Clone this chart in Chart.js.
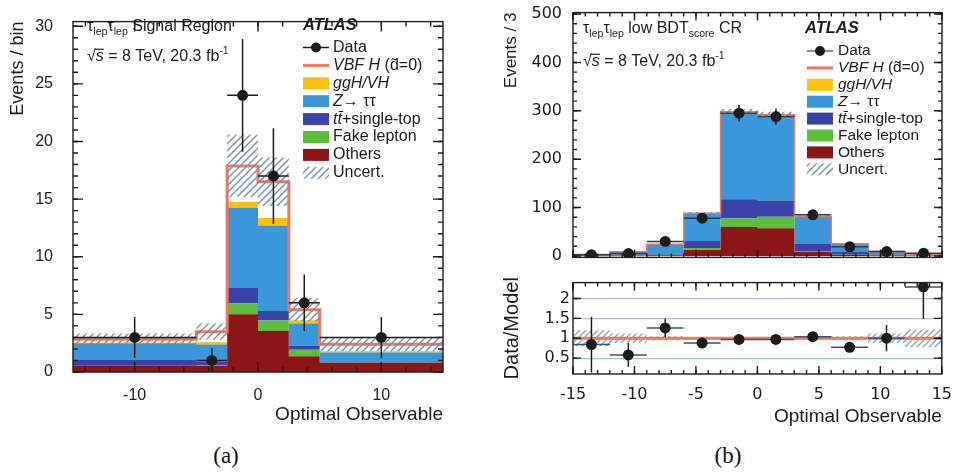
<!DOCTYPE html>
<html lang="en">
<head>
<meta charset="UTF-8">
<title>Optimal Observable</title>
<style>
  body { margin: 0; background: #fff; }
  #wrap { position: relative; width: 955px; height: 475px; overflow: hidden; }
  canvas { position: absolute; }
  #cA { left: 0; top: 0; }
  #cB { left: 490px; top: 0; }
  #cR { left: 490px; top: 270px; }
  .cap { position: absolute; top: 443px; width: 60px; text-align: center;
         font: 23px "Liberation Serif", serif; color: #111; }
</style>
</head>
<body>
<div id="wrap">
  <canvas id="cA" width="480" height="430"></canvas>
  <canvas id="cB" width="465" height="270"></canvas>
  <canvas id="cR" width="465" height="160"></canvas>
  <div class="cap" style="left:196px">(a)</div>
  <div class="cap" style="left:698px">(b)</div>
</div>

<script src="https://cdn.jsdelivr.net/npm/chart.js"></script>
<script>
// ---- (a) signal region, variable bins ----
const edgesA   = [-15, -5, -2.5, 0, 2.5, 5, 15];
const othersA  = [0.58, 0.55, 5.0, 3.57, 1.37, 0.8];
const fakeA    = [0.02, 0.03, 0.96, 0.9, 0.55, 0.02];
const ttbarA   = [0.45, 0.3, 1.37, 0.83, 0.36, 0.08];
const ztautauA = [1.45, 1.5, 6.91, 7.4, 1.92, 0.8];
const gghA     = [0.05, 0.22, 0.54, 0.65, 0.28, 0.1];
const vbfA     = [0.3, 0.9, 3.1, 3.15, 0.92, 0.6];
const uncA     = [0.5, 0.7, 2.7, 2.1, 1.0, 0.6];
const dataA    = [3, 1, 24, 17, 6, 3];
const dataErrA = [1.78, 1.05, 4.9, 4.15, 2.45, 1.78];
const xTicksA  = [-10, 0, 10];
const yTicksA  = [0, 5, 10, 15, 20, 25, 30];

// ---- (b) low BDT control region, 3-wide bins ----
const edgesB   = [-15, -12, -9, -6, -3, 0, 3, 6, 9, 12, 15];
const othersB  = [0.5, 1, 1.5, 12.5, 60, 57.5, 8, 2, 0.8, 0.3];
const fakeB    = [0.2, 0.5, 0.8, 4, 17.5, 23.5, 2, 0.7, 0.3, 0.1];
const ttbarB   = [0.5, 1.2, 2, 14.5, 39.5, 33, 14.5, 6.5, 2, 0.5];
const ztautauB = [1.7, 5.7, 19.5, 56, 178, 175, 56, 15.5, 5.8, 1.6];
const gghB     = [0.05, 0.05, 0.1, 0.5, 1.5, 1.5, 0.5, 0.15, 0.05, 0.02];
const vbfB     = [0.05, 0.05, 0.1, 0.5, 1.5, 1.5, 0.5, 0.15, 0.05, 0.02];
const relUncB  = [0.2, 0.12, 0.05, 0.03, 0.02, 0.02, 0.03, 0.05, 0.12, 0.22];
const dataB    = [2.5, 5, 30, 78, 295, 288, 85, 19, 9, 5.7];
const dataErrB = [1.6, 2.2, 5.5, 8.8, 17, 17, 9.2, 4.4, 3, 2.4];
const ratioB   = [0.84, 0.58, 1.26, 0.88, 0.97, 0.97, 1.04, 0.77, 1.0, 2.29];
const ratioErrB = [0.7, 0.3, 0.23, 0.05, 0.03, 0.03, 0.06, 0.1, 0.33, 0.8];
const xTicksB  = [-15, -10, -5, 0, 5, 10, 15];
const yTicksB  = [0, 100, 200, 300, 400, 500];
const yTicksR  = [0.5, 1, 1.5, 2];

const INK = '#1c1c1c';
const COL = { others: '#8c1616', fake: '#5cbf3c', ttbar: '#3b42a8', ztt: '#3a97d9',
              ggh: '#fdc010', vbf: '#f2775a' };
const SANS = '"Liberation Sans", Arial, sans-serif';
const WIDE = '"DejaVu Sans", sans-serif';

function hatch(color, size) {
  const c = document.createElement('canvas');
  c.width = c.height = size;
  const g = c.getContext('2d');
  g.strokeStyle = color; g.lineWidth = 1.3;
  g.beginPath();
  g.moveTo(0, size); g.lineTo(size, 0);
  g.moveTo(-2, 2); g.lineTo(2, -2);
  g.moveTo(size - 2, size + 2); g.lineTo(size + 2, size - 2);
  g.stroke();
  return g.createPattern(c, 'repeat');
}
const HATCH = hatch('#6c90b0', 7);
const HATCH_R = hatch('#82a6c0', 6);

// points for a stepped histogram: each bin value sits at its right edge
function steps(edges, vals) {
  const pts = [{ x: edges[0], y: vals[0] }];
  vals.forEach((v, i) => pts.push({ x: edges[i + 1], y: v }));
  return pts;
}
function cumulate(layers) {
  const out = [];
  let run = layers[0].map(() => 0);
  for (const l of layers) { run = run.map((r, i) => r + l[i]); out.push(run); }
  return out;
}
function centers(edges) { return edges.slice(1).map((e, i) => (e + edges[i]) / 2); }

function histSets(edges, layers, unc, vbfWidth, pattern) {
  const cum = cumulate(layers);
  const fills = [COL.others, COL.fake, COL.ttbar, COL.ztt, COL.ggh];
  const sets = fills.map((c, i) => ({
    data: steps(edges, cum[i]), stepped: 'after', borderWidth: 0, borderColor: 'transparent',
    backgroundColor: c, fill: i ? '-1' : 'origin', order: 5
  }));
  const total = cum[cum.length - 1];
  sets.push({ data: steps(edges, total), stepped: 'after', borderColor: COL.vbf,
              borderWidth: vbfWidth, fill: false, order: 4 });
  sets.push({ data: steps(edges, total.map((t, i) => t - unc[i])), stepped: 'after',
              borderWidth: 0, borderColor: 'transparent', fill: false, order: 3 });
  sets.push({ data: steps(edges, total.map((t, i) => t + unc[i])), stepped: 'after',
              borderWidth: 0, borderColor: 'transparent', backgroundColor: pattern, fill: '-1', order: 3 });
  return sets;
}

function dataSets(edges, vals, errs, hColor, radius) {
  const xs = centers(edges);
  const v = [], h = [];
  xs.forEach((x, i) => {
    v.push({ x, y: vals[i] - errs[i] }, { x, y: vals[i] + errs[i] }, { x, y: null });
    h.push({ x: edges[i], y: vals[i] }, { x: edges[i + 1], y: vals[i] }, { x: edges[i + 1], y: null });
  });
  return [
    { data: h, borderColor: hColor, borderWidth: 1.5, fill: false, order: 2 },
    { data: v, borderColor: INK, borderWidth: 1.5, fill: false, order: 2 },
    { data: xs.map((x, i) => ({ x, y: vals[i] })), showLine: false, pointRadius: radius,
      pointBackgroundColor: INK, pointBorderColor: INK, pointBorderWidth: 0, order: 1 }
  ];
}

// ROOT-like frame with inward ticks on all four sides
function framePlugin(o) {
  return {
    id: 'frame',
    afterDatasetsDraw(chart) {
      const { ctx, chartArea: a, scales: { x, y } } = chart;
      ctx.save();
      ctx.strokeStyle = INK; ctx.lineWidth = 1.4;
      const marks = (scale, step, len) => {
        const horiz = scale.isHorizontal();
        for (let k = Math.ceil(scale.min / step - 1e-6); k * step <= scale.max + 1e-6; k++) {
          const p = scale.getPixelForValue(k * step);
          ctx.beginPath();
          if (horiz) {
            ctx.moveTo(p, a.bottom); ctx.lineTo(p, a.bottom - len);
            ctx.moveTo(p, a.top); ctx.lineTo(p, a.top + len);
          } else {
            ctx.moveTo(a.left, p); ctx.lineTo(a.left + len, p);
            ctx.moveTo(a.right, p); ctx.lineTo(a.right - len, p);
          }
          ctx.stroke();
        }
      };
      marks(x, o.xMinor, o.minor); marks(x, o.xMajor, o.major);
      marks(y, o.yMinor, o.minor); marks(y, o.yMajor, o.major);
      ctx.strokeRect(a.left, a.top, a.width, a.height);
      ctx.restore();
    }
  };
}

function rich(ctx, x, y, parts, size) {
  let cx = x;
  for (const p of parts) {
    const s = p.s || '';
    const small = s === 'sub' || s === 'sup';
    const style = s === 'i' ? 'italic ' : s === 'bi' ? 'italic bold ' : '';
    ctx.font = style + (small ? size * 0.66 : size) + 'px ' + SANS;
    const dy = s === 'sub' ? size * 0.3 : s === 'sup' ? -size * 0.36 : 0;
    ctx.fillText(p.t, cx, y + dy);
    const w = ctx.measureText(p.t).width;
    if (p.over) {
      ctx.fillRect(cx - 1, y - size * 0.52, w + 1, 1.2);
    }
    cx += w;
  }
}

const legendRows = [
  { kind: 'data', label: [{ t: 'Data' }] },
  { kind: 'line', label: [{ t: 'VBF H', s: 'i' }, { t: ' (d\u0303=0)' }] },
  { kind: 'box', color: COL.ggh, label: [{ t: 'ggH/VH', s: 'i' }] },
  { kind: 'box', color: COL.ztt, label: [{ t: 'Z', s: 'i' }, { t: '\u2192 \u03c4\u03c4' }] },
  { kind: 'box', color: COL.ttbar, label: [{ t: 'tt\u0304', s: 'i' }, { t: '+single-top' }] },
  { kind: 'box', color: COL.fake, label: [{ t: 'Fake lepton' }] },
  { kind: 'box', color: COL.others, label: [{ t: 'Others' }] },
  { kind: 'hatch', label: [{ t: 'Uncert.' }] }
];

function notesPlugin(texts, L) {
  return {
    id: 'notes',
    afterDraw(chart) {
      const ctx = chart.ctx;
      ctx.save();
      ctx.fillStyle = INK;
      ctx.textBaseline = 'middle';
      texts.forEach(n => rich(ctx, n.x, n.y, n.parts, n.size));
      legendRows.forEach((r, i) => {
        const y = L.y + i * L.dy;
        if (r.kind === 'data') {
          ctx.strokeStyle = L.dataLine; ctx.lineWidth = 1.5;
          ctx.beginPath(); ctx.moveTo(L.x, y); ctx.lineTo(L.x + L.w, y); ctx.stroke();
          ctx.fillStyle = INK;
          ctx.beginPath(); ctx.arc(L.x + L.w / 2, y, 5, 0, 2 * Math.PI); ctx.fill();
        } else if (r.kind === 'line') {
          ctx.strokeStyle = COL.vbf; ctx.lineWidth = 3;
          ctx.beginPath(); ctx.moveTo(L.x, y); ctx.lineTo(L.x + L.w, y); ctx.stroke();
        } else {
          ctx.fillStyle = r.kind === 'hatch' ? HATCH : r.color;
          ctx.fillRect(L.x, y - L.h / 2, L.w, L.h);
        }
        ctx.fillStyle = INK;
        rich(ctx, L.tx, y, r.label, L.size);
      });
      ctx.restore();
    }
  };
}

const sqrtS = [{ t: '\u221a' }, { t: 's', s: 'i', over: true }, { t: ' = 8 TeV, 20.3 fb' }, { t: '-1', s: 'sup' }];

function axis(o) {
  return {
    type: 'linear', min: o.min, max: o.max,
    grid: o.grid || { display: false },
    border: { display: false },
    afterFit: s => { if (o.h !== undefined) s.height = o.h; if (o.w !== undefined) s.width = o.w; },
    afterBuildTicks: s => { s.ticks = o.ticks.map(v => ({ value: v })); },
    ticks: { display: o.labels !== false, color: INK, padding: o.pad,
             font: { family: o.family || SANS, size: o.size }, callback: v => String(v) },
    title: o.title ? { display: true, text: o.title, align: o.align || 'end', color: INK,
                       font: { family: SANS, size: o.tsize }, padding: o.tpad } : { display: false }
  };
}

function options(pad, x, y) {
  return {
    responsive: false, animation: false, events: [],
    layout: { padding: pad },
    elements: { point: { radius: 0 }, line: { tension: 0 } },
    plugins: { legend: { display: false }, tooltip: { enabled: false } },
    scales: { x, y }
  };
}

// panel (a)
new Chart(document.getElementById('cA'), {
  type: 'line',
  data: { datasets: histSets(edgesA, [othersA, fakeA, ttbarA, ztautauA, gghA, vbfA], uncA, 3, HATCH)
                      .concat(dataSets(edgesA, dataA, dataErrA, INK, 5.5)) },
  options: options({ left: 0, right: 37, top: 3, bottom: 0 },
    axis({ min: -15, max: 15, ticks: xTicksA, h: 58, pad: 6, size: 16,
           title: 'Optimal Observable', tsize: 19, tpad: { top: 0, bottom: 3.6 } }),
    axis({ min: 0, max: 30.4, ticks: yTicksA, w: 73, pad: 12, size: 16,
           title: 'Events / bin', tsize: 18, tpad: { top: 7, bottom: 0 } })),
  plugins: [
    framePlugin({ xMinor: 2, xMajor: 10, yMinor: 1, yMajor: 5, minor: 5, major: 10 }),
    notesPlugin([
      { x: 87, y: 27, size: 16, parts: [{ t: '\u03c4' }, { t: 'lep', s: 'sub' }, { t: '\u03c4' }, { t: 'lep', s: 'sub' }, { t: ' Signal Region' }] },
      { x: 87, y: 57, size: 16, parts: sqrtS },
      { x: 303, y: 25, size: 16.5, parts: [{ t: 'ATLAS', s: 'bi' }] }
    ], { x: 303, w: 26, h: 12, tx: 333, y: 47.5, dy: 17.9, size: 16, dataLine: INK })
  ]
});

// panel (b), upper part
new Chart(document.getElementById('cB'), {
  type: 'line',
  data: { datasets: histSets(edgesB, [othersB, fakeB, ttbarB, ztautauB, gghB, vbfB],
                             relUncB.map((u, i) => u * (othersB[i] + fakeB[i] + ttbarB[i] + ztautauB[i] + gghB[i] + vbfB[i])), 1.5, HATCH)
                      .concat(dataSets(edgesB, dataB, dataErrB, '#2c3e50', 5.5)) },
  options: options({ left: 0, right: 13, top: 12, bottom: 0 },
    axis({ min: -15, max: 15, ticks: xTicksB, h: 4, labels: false }),
    axis({ min: -3, max: 503, ticks: yTicksB, w: 83, pad: 3, size: 16, family: WIDE,
           title: 'Events / 3', tsize: 17, tpad: { top: 11, bottom: 0 } })),
  plugins: [
    framePlugin({ xMinor: 1, xMajor: 5, yMinor: 20, yMajor: 100, minor: 4, major: 8 }),
    notesPlugin([
      { x: 93, y: 29, size: 16, parts: [{ t: '\u03c4' }, { t: 'lep', s: 'sub' }, { t: '\u03c4' }, { t: 'lep', s: 'sub' }, { t: ' low BDT' }, { t: 'score', s: 'sub' }, { t: ' CR' }] },
      { x: 93, y: 62, size: 16, parts: sqrtS },
      { x: 315, y: 28, size: 16.5, parts: [{ t: 'ATLAS', s: 'bi' }] }
    ], { x: 317, w: 26, h: 12, tx: 348, y: 51, dy: 16.9, size: 15.5, dataLine: '#4a7090' })
  ]
});

// panel (b), ratio part
new Chart(document.getElementById('cR'), {
  type: 'line',
  data: { datasets: [
    { data: steps(edgesB, relUncB.map(u => 1 - u)), stepped: 'after', borderWidth: 0,
      borderColor: 'transparent', fill: false, order: 4 },
    { data: steps(edgesB, relUncB.map(u => 1 + u)), stepped: 'after', borderWidth: 0,
      borderColor: 'transparent', backgroundColor: HATCH_R, fill: '-1', order: 4 },
    { data: [{ x: edgesB[0], y: 1 }, { x: edgesB[edgesB.length - 1], y: 1 }],
      borderColor: COL.vbf, borderWidth: 3, fill: false, order: 3 }
  ].concat(dataSets(edgesB, ratioB, ratioErrB, '#3b536b', 5.5)) },
  options: options({ left: 0, right: 13, top: 9, bottom: 0 },
    axis({ min: -15, max: 15, ticks: xTicksB, h: 56, pad: 3, size: 16, family: WIDE,
           title: 'Optimal Observable', tsize: 19, tpad: { top: 0, bottom: 1.6 } }),
    axis({ min: 0.1, max: 2.4, ticks: yTicksR, w: 83, pad: 3, size: 16, family: WIDE,
           grid: { display: true, drawTicks: false, color: '#a6bfd2', lineWidth: 1.2 },
           title: 'Data/Model', align: 'center', tsize: 20, tpad: { top: 10, bottom: 0 } })),
  plugins: [framePlugin({ xMinor: 1, xMajor: 5, yMinor: 0.5, yMajor: 0.5, minor: 4, major: 8 })]
});
</script>
</body>
</html>
